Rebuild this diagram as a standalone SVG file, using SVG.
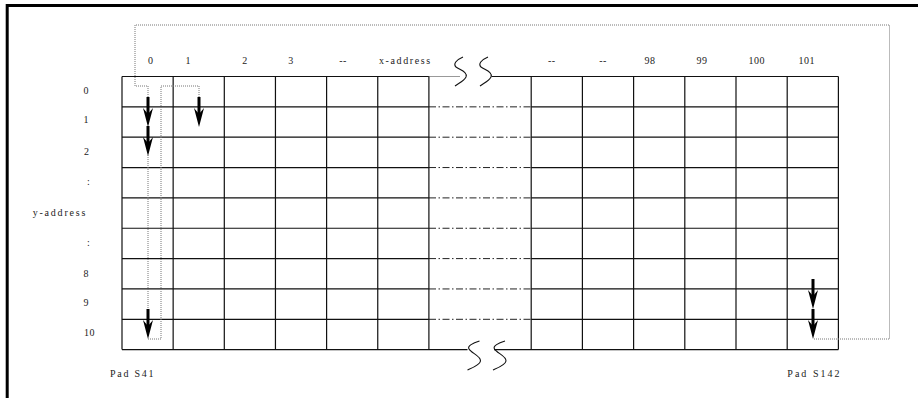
<svg xmlns="http://www.w3.org/2000/svg" width="918" height="398" viewBox="0 0 918 398">
<defs>
<style>
.t{font-family:"Liberation Serif","Times New Roman",serif;font-size:10px;fill:#222;letter-spacing:0.4px}
.g{stroke:#111;stroke-width:1.2;fill:none}
.dd{stroke:#222;stroke-width:1;stroke-dasharray:7 2.5 1.5 2.5;fill:none}
.dot{stroke:#777;stroke-width:1;stroke-dasharray:1 1;fill:none}
.brk{stroke:#111;stroke-width:1.1;fill:none}
</style>
<g id="arrow">
<rect x="-1.5" y="0" width="3" height="17" fill="#000"/>
<polygon points="0,30 -5,11 0,17 5,11" fill="#000"/>
</g>
</defs>
<rect width="918" height="398" fill="#fff"/>
<g id="frame">
<path d="M7.2,398 V5.6 H918" stroke="#000" stroke-width="3" fill="none"/>
</g>
<g id="grid">
<path class="g" d="M122,76.5 H428.9 M491.5,76.5 H838.4 M122,349.6 H467.5 M494,349.6 H838.4"/>
<path d="M428.9,76.5 H460" stroke="#999" stroke-width="1"/>
<path class="g" d="M122,106.85 H428.9 M122,137.2 H428.9 M122,167.55 H428.9 M122,197.9 H428.9 M122,228.25 H428.9 M122,258.6 H428.9 M122,288.95 H428.9 M122,319.3 H428.9"/>
<path class="g" d="M531.2,106.85 H838.4 M531.2,137.2 H838.4 M531.2,167.55 H838.4 M531.2,197.9 H838.4 M531.2,228.25 H838.4 M531.2,258.6 H838.4 M531.2,288.95 H838.4 M531.2,319.3 H838.4"/>
<path class="dd" d="M429,106.85 H531 M429,137.2 H531 M429,167.55 H531 M429,197.9 H531 M429,228.25 H531 M429,258.6 H531 M429,288.95 H531 M429,319.3 H531"/>
<path class="g" d="M122,76.5 V349.6 M173.15,76.5 V349.6 M224.3,76.5 V349.6 M275.45,76.5 V349.6 M326.6,76.5 V349.6 M377.75,76.5 V349.6 M428.9,76.5 V349.6"/>
<path class="g" d="M531.2,76.5 V349.6 M582.4,76.5 V349.6 M633.6,76.5 V349.6 M684.8,76.5 V349.6 M736,76.5 V349.6 M787.2,76.5 V349.6 M838.4,76.5 V349.6"/>
</g>
<g id="breaks">
<path class="brk" d="M463,57 C456,60 453,64 456,67 C460,70 468,72 466,77 C464,81 459,83 455,86"/>
<path class="brk" d="M488,57 C481,60 478,64 481,67 C485,70 493,72 491,77 C489,81 484,83 480,86"/>
<path class="brk" d="M479.5,341 C473,343 467,346 469,349 C471,353 481,356 480.5,361 C480,365 472,368 467.5,370"/>
<path class="brk" d="M505,341 C498.5,343 492.5,346 494.5,349 C496.5,353 506.5,356 506,361 C505.5,365 497.5,368 493,370"/>
</g>
<g id="col-labels">
<text class="t" x="150.7" y="63.5" text-anchor="middle">0</text>
<text class="t" x="188.3" y="63.5" text-anchor="middle">1</text>
<text class="t" x="245" y="63.5" text-anchor="middle">2</text>
<text class="t" x="291" y="63.5" text-anchor="middle">3</text>
<text class="t" x="343" y="63.5" text-anchor="middle">--</text>
<text class="t" x="379" y="63.5" textLength="51.5" lengthAdjust="spacing">x-address</text>
<text class="t" x="551.7" y="63.5" text-anchor="middle">--</text>
<text class="t" x="603" y="63.5" text-anchor="middle">--</text>
<text class="t" x="650" y="63.5" text-anchor="middle">98</text>
<text class="t" x="702" y="63.5" text-anchor="middle">99</text>
<text class="t" x="756.7" y="63.5" text-anchor="middle">100</text>
<text class="t" x="806.7" y="63.5" text-anchor="middle">101</text>
</g>
<g id="row-labels">
<text class="t" x="83.5" y="93.5">0</text>
<text class="t" x="83.5" y="122.8">1</text>
<text class="t" x="84" y="155">2</text>
<text class="t" x="87" y="185">:</text>
<text class="t" x="32.7" y="215.8" textLength="53" lengthAdjust="spacing">y-address</text>
<text class="t" x="87" y="246">:</text>
<text class="t" x="83.5" y="276.6">8</text>
<text class="t" x="83.5" y="306">9</text>
<text class="t" x="84" y="336">10</text>
</g>
<g id="pads">
<text class="t" x="110" y="376.8" textLength="44" lengthAdjust="spacing">Pad S41</text>
<text class="t" x="787.3" y="376.8" textLength="52.7" lengthAdjust="spacing">Pad S142</text>
</g>
<g id="connectors">
<path class="dot" d="M148,97 V86 H135 V25 H889.5 V339 H813"/>
<path class="dot" d="M148,155 V309"/>
<path class="dot" d="M148,339 H161 V86 H199 V97"/>
<use href="#arrow" x="148" y="97"/>
<use href="#arrow" x="148" y="126"/>
<use href="#arrow" x="199" y="97"/>
<use href="#arrow" x="148" y="309"/>
<use href="#arrow" x="813" y="279"/>
<use href="#arrow" x="813" y="309"/>
</g>
</svg>
